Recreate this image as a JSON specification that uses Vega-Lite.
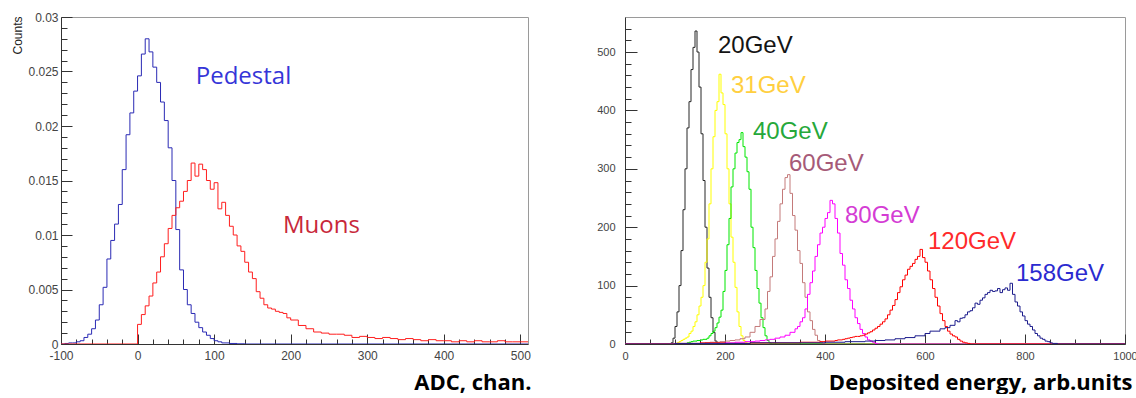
{
"$schema": "https://vega.github.io/schema/vega-lite/v6.json",
"background": "white",
"padding": {"left": 10, "top": 10, "right": 0, "bottom": 0},
"config": {"view": {"stroke": "#9a9a9a", "strokeWidth": 1}, "axis": {"grid": false, "labelFont": "Liberation Sans", "labelColor": "#444444", "domainColor": "#333333", "tickColor": "#333333", "labelFlush": false, "labelOverlap": false}},
"datasets": {
"adc": [
{"s":"Pedestal","x":-100,"y":0},{"s":"Pedestal","x":-95,"y":0.00005},{"s":"Pedestal","x":-90,"y":0.0001},{"s":"Pedestal","x":-85,"y":0.0001},{"s":"Pedestal","x":-80,"y":0.0002},{"s":"Pedestal","x":-75,"y":0.0003},{"s":"Pedestal","x":-70,"y":0.0006},{"s":"Pedestal","x":-65,"y":0.0009},{"s":"Pedestal","x":-60,"y":0.0014},{"s":"Pedestal","x":-55,"y":0.0022},{"s":"Pedestal","x":-50,"y":0.0036},{"s":"Pedestal","x":-45,"y":0.0052},{"s":"Pedestal","x":-40,"y":0.0078},{"s":"Pedestal","x":-35,"y":0.0095},{"s":"Pedestal","x":-30,"y":0.011},{"s":"Pedestal","x":-25,"y":0.0128},{"s":"Pedestal","x":-20,"y":0.016},{"s":"Pedestal","x":-15,"y":0.0192},{"s":"Pedestal","x":-10,"y":0.0212},{"s":"Pedestal","x":-5,"y":0.0232},{"s":"Pedestal","x":0,"y":0.0246},{"s":"Pedestal","x":5,"y":0.0266},{"s":"Pedestal","x":10,"y":0.028},{"s":"Pedestal","x":15,"y":0.0268},{"s":"Pedestal","x":20,"y":0.0254},{"s":"Pedestal","x":25,"y":0.024},{"s":"Pedestal","x":30,"y":0.0222},{"s":"Pedestal","x":35,"y":0.0205},{"s":"Pedestal","x":40,"y":0.018},{"s":"Pedestal","x":45,"y":0.015},{"s":"Pedestal","x":50,"y":0.0105},{"s":"Pedestal","x":55,"y":0.0068},{"s":"Pedestal","x":60,"y":0.005},{"s":"Pedestal","x":65,"y":0.0036},{"s":"Pedestal","x":70,"y":0.0028},{"s":"Pedestal","x":75,"y":0.002},{"s":"Pedestal","x":80,"y":0.0015},{"s":"Pedestal","x":85,"y":0.0011},{"s":"Pedestal","x":90,"y":0.0008},{"s":"Pedestal","x":95,"y":0.0005},{"s":"Pedestal","x":100,"y":0.0003},{"s":"Pedestal","x":105,"y":0.0002},{"s":"Pedestal","x":110,"y":0.0001},{"s":"Pedestal","x":120,"y":0.00005},{"s":"Pedestal","x":130,"y":0.00002},{"s":"Pedestal","x":140,"y":0},{"s":"Pedestal","x":510,"y":0},
{"s":"Muons","x":-100,"y":0},{"s":"Muons","x":0,"y":0.0018},{"s":"Muons","x":5,"y":0.0027},{"s":"Muons","x":10,"y":0.0035},{"s":"Muons","x":15,"y":0.0044},{"s":"Muons","x":20,"y":0.0056},{"s":"Muons","x":25,"y":0.0066},{"s":"Muons","x":30,"y":0.008},{"s":"Muons","x":35,"y":0.0092},{"s":"Muons","x":40,"y":0.0106},{"s":"Muons","x":45,"y":0.0118},{"s":"Muons","x":50,"y":0.0125},{"s":"Muons","x":55,"y":0.0131},{"s":"Muons","x":60,"y":0.014},{"s":"Muons","x":65,"y":0.015},{"s":"Muons","x":70,"y":0.0166},{"s":"Muons","x":75,"y":0.0154},{"s":"Muons","x":80,"y":0.0165},{"s":"Muons","x":85,"y":0.016},{"s":"Muons","x":90,"y":0.015},{"s":"Muons","x":95,"y":0.0142},{"s":"Muons","x":100,"y":0.0148},{"s":"Muons","x":105,"y":0.0124},{"s":"Muons","x":110,"y":0.013},{"s":"Muons","x":115,"y":0.0118},{"s":"Muons","x":120,"y":0.0108},{"s":"Muons","x":125,"y":0.01},{"s":"Muons","x":130,"y":0.009},{"s":"Muons","x":135,"y":0.0085},{"s":"Muons","x":140,"y":0.0075},{"s":"Muons","x":145,"y":0.0066},{"s":"Muons","x":150,"y":0.006},{"s":"Muons","x":155,"y":0.0048},{"s":"Muons","x":160,"y":0.0042},{"s":"Muons","x":165,"y":0.0036},{"s":"Muons","x":170,"y":0.0033},{"s":"Muons","x":175,"y":0.0032},{"s":"Muons","x":180,"y":0.003},{"s":"Muons","x":185,"y":0.0029},{"s":"Muons","x":190,"y":0.0028},{"s":"Muons","x":195,"y":0.0024},{"s":"Muons","x":200,"y":0.0022},{"s":"Muons","x":210,"y":0.0017},{"s":"Muons","x":220,"y":0.0014},{"s":"Muons","x":230,"y":0.0011},{"s":"Muons","x":240,"y":0.001},{"s":"Muons","x":250,"y":0.0009},{"s":"Muons","x":260,"y":0.0009},{"s":"Muons","x":270,"y":0.0008},{"s":"Muons","x":280,"y":0.0006},{"s":"Muons","x":290,"y":0.0007},{"s":"Muons","x":300,"y":0.0006},{"s":"Muons","x":310,"y":0.0005},{"s":"Muons","x":320,"y":0.0006},{"s":"Muons","x":330,"y":0.0005},{"s":"Muons","x":340,"y":0.0004},{"s":"Muons","x":350,"y":0.0005},{"s":"Muons","x":360,"y":0.0004},{"s":"Muons","x":370,"y":0.0003},{"s":"Muons","x":380,"y":0.0004},{"s":"Muons","x":390,"y":0.0003},{"s":"Muons","x":400,"y":0.0003},{"s":"Muons","x":410,"y":0.0002},{"s":"Muons","x":420,"y":0.0003},{"s":"Muons","x":430,"y":0.0002},{"s":"Muons","x":440,"y":0.0003},{"s":"Muons","x":450,"y":0.0002},{"s":"Muons","x":460,"y":0.0002},{"s":"Muons","x":470,"y":0.0003},{"s":"Muons","x":480,"y":0.0002},{"s":"Muons","x":490,"y":0.0002},{"s":"Muons","x":500,"y":0.0002},{"s":"Muons","x":510,"y":0.0002}
],
"adcLabels": [
{"t":"Pedestal","x":76,"y":0.02385},
{"t":"Muons","x":190,"y":0.01018}
],
"energy": [
{"s":"20GeV","x":0,"y":0},{"s":"20GeV","x":88,"y":0},{"s":"20GeV","x":92,"y":2},{"s":"20GeV","x":96,"y":10},{"s":"20GeV","x":100,"y":30},{"s":"20GeV","x":104,"y":55},{"s":"20GeV","x":108,"y":100},{"s":"20GeV","x":112,"y":160},{"s":"20GeV","x":116,"y":230},{"s":"20GeV","x":120,"y":300},{"s":"20GeV","x":124,"y":370},{"s":"20GeV","x":128,"y":415},{"s":"20GeV","x":132,"y":470},{"s":"20GeV","x":136,"y":508},{"s":"20GeV","x":140,"y":536},{"s":"20GeV","x":144,"y":500},{"s":"20GeV","x":148,"y":440},{"s":"20GeV","x":152,"y":360},{"s":"20GeV","x":156,"y":280},{"s":"20GeV","x":160,"y":200},{"s":"20GeV","x":164,"y":130},{"s":"20GeV","x":168,"y":80},{"s":"20GeV","x":172,"y":45},{"s":"20GeV","x":176,"y":20},{"s":"20GeV","x":180,"y":5},{"s":"20GeV","x":184,"y":1},{"s":"20GeV","x":188,"y":0},{"s":"20GeV","x":1000,"y":0},
{"s":"31GeV","x":0,"y":0},{"s":"31GeV","x":100,"y":0},{"s":"31GeV","x":104,"y":2},{"s":"31GeV","x":108,"y":4},{"s":"31GeV","x":112,"y":6},{"s":"31GeV","x":116,"y":8},{"s":"31GeV","x":120,"y":10},{"s":"31GeV","x":124,"y":12},{"s":"31GeV","x":128,"y":18},{"s":"31GeV","x":132,"y":22},{"s":"31GeV","x":136,"y":30},{"s":"31GeV","x":140,"y":38},{"s":"31GeV","x":144,"y":50},{"s":"31GeV","x":148,"y":65},{"s":"31GeV","x":152,"y":80},{"s":"31GeV","x":156,"y":100},{"s":"31GeV","x":160,"y":140},{"s":"31GeV","x":164,"y":180},{"s":"31GeV","x":168,"y":240},{"s":"31GeV","x":172,"y":300},{"s":"31GeV","x":176,"y":355},{"s":"31GeV","x":180,"y":400},{"s":"31GeV","x":184,"y":415},{"s":"31GeV","x":188,"y":462},{"s":"31GeV","x":192,"y":430},{"s":"31GeV","x":196,"y":410},{"s":"31GeV","x":200,"y":360},{"s":"31GeV","x":204,"y":300},{"s":"31GeV","x":208,"y":240},{"s":"31GeV","x":212,"y":183},{"s":"31GeV","x":216,"y":140},{"s":"31GeV","x":220,"y":97},{"s":"31GeV","x":224,"y":55},{"s":"31GeV","x":228,"y":30},{"s":"31GeV","x":232,"y":14},{"s":"31GeV","x":236,"y":6},{"s":"31GeV","x":240,"y":3},{"s":"31GeV","x":244,"y":1},{"s":"31GeV","x":248,"y":0},{"s":"31GeV","x":1000,"y":0},
{"s":"40GeV","x":0,"y":0},{"s":"40GeV","x":120,"y":0},{"s":"40GeV","x":124,"y":2},{"s":"40GeV","x":128,"y":3},{"s":"40GeV","x":132,"y":4},{"s":"40GeV","x":136,"y":5},{"s":"40GeV","x":140,"y":5},{"s":"40GeV","x":144,"y":6},{"s":"40GeV","x":148,"y":6},{"s":"40GeV","x":152,"y":7},{"s":"40GeV","x":156,"y":8},{"s":"40GeV","x":160,"y":8},{"s":"40GeV","x":164,"y":10},{"s":"40GeV","x":168,"y":14},{"s":"40GeV","x":172,"y":18},{"s":"40GeV","x":176,"y":22},{"s":"40GeV","x":180,"y":28},{"s":"40GeV","x":184,"y":36},{"s":"40GeV","x":188,"y":46},{"s":"40GeV","x":192,"y":58},{"s":"40GeV","x":196,"y":90},{"s":"40GeV","x":200,"y":126},{"s":"40GeV","x":204,"y":170},{"s":"40GeV","x":208,"y":215},{"s":"40GeV","x":212,"y":269},{"s":"40GeV","x":216,"y":300},{"s":"40GeV","x":220,"y":327},{"s":"40GeV","x":224,"y":345},{"s":"40GeV","x":228,"y":350},{"s":"40GeV","x":232,"y":362},{"s":"40GeV","x":236,"y":338},{"s":"40GeV","x":240,"y":320},{"s":"40GeV","x":244,"y":295},{"s":"40GeV","x":248,"y":265},{"s":"40GeV","x":252,"y":200},{"s":"40GeV","x":256,"y":165},{"s":"40GeV","x":260,"y":126},{"s":"40GeV","x":264,"y":95},{"s":"40GeV","x":268,"y":70},{"s":"40GeV","x":272,"y":45},{"s":"40GeV","x":276,"y":28},{"s":"40GeV","x":280,"y":14},{"s":"40GeV","x":284,"y":6},{"s":"40GeV","x":288,"y":2},{"s":"40GeV","x":292,"y":0},{"s":"40GeV","x":1000,"y":0},
{"s":"60GeV","x":0,"y":0},{"s":"60GeV","x":150,"y":0},{"s":"60GeV","x":160,"y":2},{"s":"60GeV","x":170,"y":3},{"s":"60GeV","x":180,"y":3},{"s":"60GeV","x":190,"y":4},{"s":"60GeV","x":200,"y":5},{"s":"60GeV","x":210,"y":6},{"s":"60GeV","x":220,"y":7},{"s":"60GeV","x":230,"y":9},{"s":"60GeV","x":240,"y":12},{"s":"60GeV","x":250,"y":20},{"s":"60GeV","x":260,"y":30},{"s":"60GeV","x":270,"y":42},{"s":"60GeV","x":280,"y":60},{"s":"60GeV","x":285,"y":90},{"s":"60GeV","x":290,"y":115},{"s":"60GeV","x":295,"y":150},{"s":"60GeV","x":300,"y":180},{"s":"60GeV","x":305,"y":210},{"s":"60GeV","x":310,"y":240},{"s":"60GeV","x":315,"y":265},{"s":"60GeV","x":320,"y":285},{"s":"60GeV","x":325,"y":290},{"s":"60GeV","x":330,"y":258},{"s":"60GeV","x":335,"y":220},{"s":"60GeV","x":340,"y":195},{"s":"60GeV","x":345,"y":160},{"s":"60GeV","x":350,"y":138},{"s":"60GeV","x":355,"y":105},{"s":"60GeV","x":360,"y":80},{"s":"60GeV","x":365,"y":55},{"s":"60GeV","x":370,"y":40},{"s":"60GeV","x":375,"y":25},{"s":"60GeV","x":380,"y":15},{"s":"60GeV","x":385,"y":6},{"s":"60GeV","x":390,"y":3},{"s":"60GeV","x":395,"y":1},{"s":"60GeV","x":400,"y":0},{"s":"60GeV","x":1000,"y":0},
{"s":"80GeV","x":0,"y":0},{"s":"80GeV","x":180,"y":0},{"s":"80GeV","x":190,"y":1},{"s":"80GeV","x":200,"y":2},{"s":"80GeV","x":220,"y":3},{"s":"80GeV","x":240,"y":4},{"s":"80GeV","x":260,"y":5},{"s":"80GeV","x":270,"y":6},{"s":"80GeV","x":280,"y":7},{"s":"80GeV","x":290,"y":8},{"s":"80GeV","x":300,"y":10},{"s":"80GeV","x":310,"y":12},{"s":"80GeV","x":320,"y":15},{"s":"80GeV","x":330,"y":20},{"s":"80GeV","x":340,"y":26},{"s":"80GeV","x":345,"y":30},{"s":"80GeV","x":350,"y":38},{"s":"80GeV","x":355,"y":45},{"s":"80GeV","x":360,"y":60},{"s":"80GeV","x":365,"y":85},{"s":"80GeV","x":370,"y":105},{"s":"80GeV","x":375,"y":125},{"s":"80GeV","x":380,"y":150},{"s":"80GeV","x":385,"y":170},{"s":"80GeV","x":390,"y":190},{"s":"80GeV","x":395,"y":200},{"s":"80GeV","x":400,"y":215},{"s":"80GeV","x":405,"y":225},{"s":"80GeV","x":410,"y":246},{"s":"80GeV","x":415,"y":240},{"s":"80GeV","x":420,"y":215},{"s":"80GeV","x":425,"y":190},{"s":"80GeV","x":430,"y":155},{"s":"80GeV","x":435,"y":135},{"s":"80GeV","x":440,"y":110},{"s":"80GeV","x":445,"y":95},{"s":"80GeV","x":450,"y":75},{"s":"80GeV","x":455,"y":60},{"s":"80GeV","x":460,"y":45},{"s":"80GeV","x":465,"y":35},{"s":"80GeV","x":470,"y":25},{"s":"80GeV","x":475,"y":18},{"s":"80GeV","x":480,"y":12},{"s":"80GeV","x":485,"y":7},{"s":"80GeV","x":490,"y":5},{"s":"80GeV","x":495,"y":3},{"s":"80GeV","x":500,"y":1},{"s":"80GeV","x":505,"y":0},{"s":"80GeV","x":1000,"y":0},
{"s":"120GeV","x":0,"y":0},{"s":"120GeV","x":100,"y":1},{"s":"120GeV","x":150,"y":2},{"s":"120GeV","x":200,"y":1},{"s":"120GeV","x":250,"y":2},{"s":"120GeV","x":300,"y":2},{"s":"120GeV","x":350,"y":3},{"s":"120GeV","x":380,"y":3},{"s":"120GeV","x":390,"y":4},{"s":"120GeV","x":400,"y":5},{"s":"120GeV","x":410,"y":5},{"s":"120GeV","x":420,"y":6},{"s":"120GeV","x":425,"y":7},{"s":"120GeV","x":430,"y":7},{"s":"120GeV","x":435,"y":8},{"s":"120GeV","x":440,"y":9},{"s":"120GeV","x":445,"y":10},{"s":"120GeV","x":450,"y":11},{"s":"120GeV","x":455,"y":12},{"s":"120GeV","x":460,"y":13},{"s":"120GeV","x":465,"y":13},{"s":"120GeV","x":470,"y":14},{"s":"120GeV","x":475,"y":15},{"s":"120GeV","x":480,"y":17},{"s":"120GeV","x":485,"y":19},{"s":"120GeV","x":490,"y":21},{"s":"120GeV","x":495,"y":24},{"s":"120GeV","x":500,"y":27},{"s":"120GeV","x":505,"y":30},{"s":"120GeV","x":510,"y":34},{"s":"120GeV","x":515,"y":38},{"s":"120GeV","x":520,"y":43},{"s":"120GeV","x":525,"y":50},{"s":"120GeV","x":530,"y":58},{"s":"120GeV","x":535,"y":66},{"s":"120GeV","x":540,"y":76},{"s":"120GeV","x":545,"y":88},{"s":"120GeV","x":550,"y":98},{"s":"120GeV","x":555,"y":110},{"s":"120GeV","x":560,"y":118},{"s":"120GeV","x":565,"y":128},{"s":"120GeV","x":570,"y":133},{"s":"120GeV","x":575,"y":138},{"s":"120GeV","x":580,"y":145},{"s":"120GeV","x":585,"y":150},{"s":"120GeV","x":590,"y":162},{"s":"120GeV","x":595,"y":148},{"s":"120GeV","x":600,"y":140},{"s":"120GeV","x":605,"y":125},{"s":"120GeV","x":610,"y":110},{"s":"120GeV","x":615,"y":95},{"s":"120GeV","x":620,"y":80},{"s":"120GeV","x":625,"y":65},{"s":"120GeV","x":630,"y":52},{"s":"120GeV","x":635,"y":40},{"s":"120GeV","x":640,"y":30},{"s":"120GeV","x":645,"y":22},{"s":"120GeV","x":650,"y":17},{"s":"120GeV","x":655,"y":14},{"s":"120GeV","x":660,"y":12},{"s":"120GeV","x":665,"y":8},{"s":"120GeV","x":670,"y":5},{"s":"120GeV","x":675,"y":3},{"s":"120GeV","x":680,"y":2},{"s":"120GeV","x":685,"y":1},{"s":"120GeV","x":690,"y":0},{"s":"120GeV","x":1000,"y":0},
{"s":"158GeV","x":0,"y":0},{"s":"158GeV","x":100,"y":1},{"s":"158GeV","x":150,"y":1},{"s":"158GeV","x":200,"y":1},{"s":"158GeV","x":250,"y":2},{"s":"158GeV","x":300,"y":2},{"s":"158GeV","x":350,"y":2},{"s":"158GeV","x":400,"y":3},{"s":"158GeV","x":420,"y":3},{"s":"158GeV","x":440,"y":4},{"s":"158GeV","x":460,"y":4},{"s":"158GeV","x":480,"y":5},{"s":"158GeV","x":500,"y":6},{"s":"158GeV","x":520,"y":7},{"s":"158GeV","x":540,"y":9},{"s":"158GeV","x":560,"y":11},{"s":"158GeV","x":580,"y":14},{"s":"158GeV","x":600,"y":18},{"s":"158GeV","x":610,"y":22},{"s":"158GeV","x":620,"y":22},{"s":"158GeV","x":630,"y":26},{"s":"158GeV","x":640,"y":28},{"s":"158GeV","x":650,"y":32},{"s":"158GeV","x":660,"y":40},{"s":"158GeV","x":665,"y":38},{"s":"158GeV","x":670,"y":44},{"s":"158GeV","x":675,"y":45},{"s":"158GeV","x":680,"y":50},{"s":"158GeV","x":685,"y":55},{"s":"158GeV","x":690,"y":57},{"s":"158GeV","x":695,"y":62},{"s":"158GeV","x":700,"y":70},{"s":"158GeV","x":705,"y":68},{"s":"158GeV","x":710,"y":75},{"s":"158GeV","x":715,"y":79},{"s":"158GeV","x":720,"y":85},{"s":"158GeV","x":725,"y":88},{"s":"158GeV","x":730,"y":92},{"s":"158GeV","x":735,"y":90},{"s":"158GeV","x":740,"y":91},{"s":"158GeV","x":745,"y":95},{"s":"158GeV","x":750,"y":88},{"s":"158GeV","x":755,"y":93},{"s":"158GeV","x":760,"y":96},{"s":"158GeV","x":765,"y":92},{"s":"158GeV","x":770,"y":104},{"s":"158GeV","x":775,"y":85},{"s":"158GeV","x":780,"y":72},{"s":"158GeV","x":785,"y":65},{"s":"158GeV","x":790,"y":55},{"s":"158GeV","x":795,"y":48},{"s":"158GeV","x":800,"y":40},{"s":"158GeV","x":805,"y":34},{"s":"158GeV","x":810,"y":30},{"s":"158GeV","x":815,"y":24},{"s":"158GeV","x":820,"y":18},{"s":"158GeV","x":825,"y":14},{"s":"158GeV","x":830,"y":10},{"s":"158GeV","x":835,"y":8},{"s":"158GeV","x":840,"y":5},{"s":"158GeV","x":845,"y":4},{"s":"158GeV","x":850,"y":2},{"s":"158GeV","x":855,"y":1},{"s":"158GeV","x":865,"y":0},{"s":"158GeV","x":1000,"y":0}
],
"energyLabels": [
{"t":"20GeV","x":186,"y":498},
{"t":"31GeV","x":212,"y":430},
{"t":"40GeV","x":256,"y":351},
{"t":"60GeV","x":328,"y":296},
{"t":"80GeV","x":440,"y":207},
{"t":"120GeV","x":606,"y":163},
{"t":"158GeV","x":782,"y":108}
]
},
"bounds": "flush",
"spacing": 97,
"hconcat": [
{
"width": 467, "height": 327,
"layer": [
{"data": {"name": "adc"}, "transform": [{"filter": "datum.s === 'Pedestal'"}],
 "mark": {"type": "line", "interpolate": "step-after", "strokeWidth": 1, "clip": true},
 "encoding": {
  "x": {"field": "x", "type": "quantitative", "scale": {"domain": [-100, 510], "nice": false, "zero": false},
   "axis": {"orient": "bottom", "values": [-100, 0, 100, 200, 300, 400, 500], "ticks": false, "labelPadding": 6, "labelFontSize": 12, "labelExpr": "'' + datum.value", "title": "ADC, chan.", "titleFont": "Open Sans", "titleFontSize": 22, "titleFontWeight": "bold", "titleColor": "#000000", "titleAnchor": "end", "titleAlign": "right", "titleBaseline": "alphabetic", "titleX": 470, "titleY": 45}},
  "y": {"field": "y", "type": "quantitative", "scale": {"domain": [0, 0.03], "nice": false, "zero": true},
   "axis": {"orient": "left", "values": [0, 0.005, 0.01, 0.015, 0.02, 0.025, 0.03], "ticks": false, "labelPadding": 3, "labelFontSize": 12, "labelExpr": "'' + datum.value", "title": "Counts", "titleFont": "Liberation Sans", "titleFontSize": 12, "titleFontWeight": "normal", "titleColor": "#222222", "titleAngle": -90, "titleAnchor": "end", "titleAlign": "right", "titleBaseline": "alphabetic", "titleX": -40, "titleY": -1}},
  "color": {"field": "s", "type": "nominal", "scale": {"domain": ["Pedestal"], "range": ["#2a2ab4"]}, "legend": null}
 }},
{"data": {"name": "adc"}, "transform": [{"filter": "datum.s === 'Muons'"}],
 "mark": {"type": "line", "interpolate": "step-after", "strokeWidth": 1, "clip": true},
 "encoding": {
  "x": {"field": "x", "type": "quantitative", "axis": {"orient": "bottom", "values": [-100, 0, 100, 200, 300, 400, 500], "labels": false, "domain": false, "ticks": true, "tickSize": -10, "title": null}},
  "y": {"field": "y", "type": "quantitative", "axis": {"orient": "left", "values": [0, 0.005, 0.01, 0.015, 0.02, 0.025, 0.03], "labels": false, "domain": false, "ticks": true, "tickSize": -11, "title": null}},
  "color": {"field": "s", "type": "nominal", "scale": {"domain": ["Muons"], "range": ["#ff1e1e"]}, "legend": null}
 }},
{"data": {"name": "adcLabels"},
 "mark": {"type": "text", "font": "Open Sans", "fontSize": 24, "align": "left", "baseline": "alphabetic"},
 "encoding": {
  "x": {"field": "x", "type": "quantitative", "axis": {"orient": "bottom", "values": [-80, -60, -40, -20, 20, 40, 60, 80, 120, 140, 160, 180, 220, 240, 260, 280, 320, 340, 360, 380, 420, 440, 460, 480], "labels": false, "domain": false, "ticks": true, "tickSize": -5, "title": null}},
  "y": {"field": "y", "type": "quantitative", "axis": {"orient": "left", "values": [0.001, 0.002, 0.003, 0.004, 0.006, 0.007, 0.008, 0.009, 0.011, 0.012, 0.013, 0.014, 0.016, 0.017, 0.018, 0.019, 0.021, 0.022, 0.023, 0.024, 0.026, 0.027, 0.028, 0.029], "labels": false, "domain": false, "ticks": true, "tickSize": -6, "title": null}},
  "text": {"field": "t", "type": "nominal"},
  "color": {"field": "t", "type": "nominal", "scale": {"domain": ["Pedestal", "Muons"], "range": ["#3535d8", "#c8283a"]}, "legend": null}
 }}
],
"resolve": {"axis": {"x": "independent", "y": "independent"}, "scale": {"color": "independent"}}
},
{
"width": 500, "height": 327,
"layer": [
{"data": {"name": "energy"}, "transform": [{"filter": "datum.s !== '158GeV'"}],
 "mark": {"type": "line", "interpolate": "step-after", "strokeWidth": 1, "clip": true},
 "encoding": {
  "x": {"field": "x", "type": "quantitative", "scale": {"domain": [0, 1000], "nice": false, "zero": true},
   "axis": {"orient": "bottom", "values": [0, 200, 400, 600, 800, 1000], "ticks": false, "labelPadding": 6, "labelFontSize": 11, "labelExpr": "'' + datum.value", "title": "Deposited energy, arb.units", "titleFont": "Open Sans", "titleFontSize": 22, "titleFontWeight": "bold", "titleColor": "#000000", "titleAnchor": "end", "titleAlign": "right", "titleBaseline": "alphabetic", "titleX": 507, "titleY": 45}},
  "y": {"field": "y", "type": "quantitative", "scale": {"domain": [0, 560], "nice": false, "zero": true},
   "axis": {"orient": "left", "values": [0, 100, 200, 300, 400, 500], "ticks": false, "labelPadding": 10, "labelFontSize": 11, "labelExpr": "'' + datum.value", "title": null}},
  "color": {"field": "s", "type": "nominal", "scale": {"domain": ["20GeV", "31GeV", "40GeV", "60GeV", "80GeV", "120GeV"], "range": ["#262626", "#ffff00", "#00e600", "#c47a7a", "#ff00ff", "#ff0000"]}, "legend": null}
 }},
{"data": {"name": "energy"}, "transform": [{"filter": "datum.s === '158GeV'"}],
 "mark": {"type": "line", "interpolate": "step-after", "strokeWidth": 1, "clip": true},
 "encoding": {
  "x": {"field": "x", "type": "quantitative", "axis": {"orient": "bottom", "values": [0, 200, 400, 600, 800, 1000], "labels": false, "domain": false, "ticks": true, "tickSize": -10, "title": null}},
  "y": {"field": "y", "type": "quantitative", "axis": {"orient": "left", "values": [0, 100, 200, 300, 400, 500], "labels": false, "domain": false, "ticks": true, "tickSize": -12, "title": null}},
  "color": {"field": "s", "type": "nominal", "scale": {"domain": ["158GeV"], "range": ["#1c1c8c"]}, "legend": null}
 }},
{"data": {"name": "energyLabels"},
 "mark": {"type": "text", "font": "Liberation Sans", "fontSize": 24, "align": "left", "baseline": "alphabetic"},
 "encoding": {
  "x": {"field": "x", "type": "quantitative", "axis": {"orient": "bottom", "values": [50, 100, 150, 250, 300, 350, 450, 500, 550, 650, 700, 750, 850, 900, 950], "labels": false, "domain": false, "ticks": true, "tickSize": -5, "title": null}},
  "y": {"field": "y", "type": "quantitative", "axis": {"orient": "left", "values": [20, 40, 60, 80, 120, 140, 160, 180, 220, 240, 260, 280, 320, 340, 360, 380, 420, 440, 460, 480, 520, 540], "labels": false, "domain": false, "ticks": true, "tickSize": -6, "title": null}},
  "text": {"field": "t", "type": "nominal"},
  "color": {"field": "t", "type": "nominal", "scale": {"domain": ["20GeV", "31GeV", "40GeV", "60GeV", "80GeV", "120GeV", "158GeV"], "range": ["#141414", "#ffcf40", "#26a83a", "#a65a78", "#d43cd4", "#ff2a2a", "#2b2bd0"]}, "legend": null}
 }}
],
"resolve": {"axis": {"x": "independent", "y": "independent"}, "scale": {"color": "independent"}}
}
]
}
